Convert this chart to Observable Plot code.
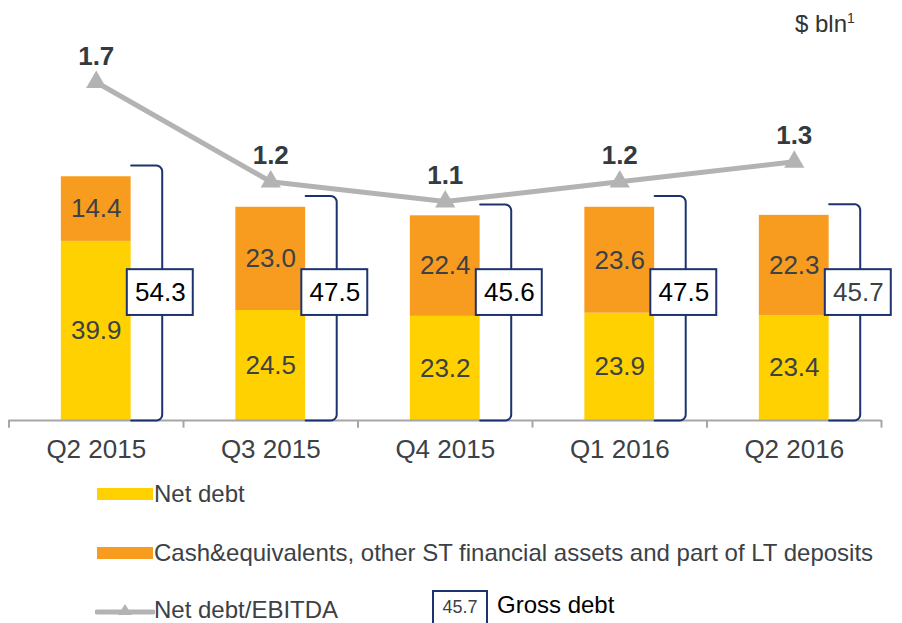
<!DOCTYPE html>
<html>
<head>
<meta charset="utf-8">
<script src="https://cdn.jsdelivr.net/npm/d3@7"></script>
<script src="https://cdn.jsdelivr.net/npm/@observablehq/plot@0.6"></script>
<style>
  body { margin: 0; background: #fff; font-family: "Liberation Sans", Arial, sans-serif; }
  #wrap { position: relative; width: 902px; height: 623px; overflow: hidden; }
  .abs { position: absolute; white-space: nowrap; }
  .lt { font-size: 24px; line-height: 24px; color: #3c4146; }
</style>
</head>
<body>
<div id="wrap">
  <div id="chart" class="abs" style="left:0;top:0"></div>
  <div class="abs lt" style="left:795px;top:12px;color:#333">$ bln<span style="font-size:14px;position:relative;top:-9px">1</span></div>

  <div class="abs" style="left:97px;top:488px;width:56px;height:12px;background:#FFD100"></div>
  <div class="abs lt" style="left:154px;top:482px">Net debt</div>

  <div class="abs" style="left:97px;top:547px;width:56px;height:12px;background:#F79C1F"></div>
  <div class="abs lt" style="left:154px;top:541px">Cash&amp;equivalents, other ST financial assets and part of LT deposits</div>

  <svg class="abs" style="left:95px;top:598px" width="60" height="23">
    <line x1="2" y1="14" x2="58" y2="14" stroke="#B3B3B3" stroke-width="5" stroke-linecap="round"/>
    <path d="M30,6 L37,17 L23,17 Z" fill="#B3B3B3"/>
  </svg>
  <div class="abs lt" style="left:154px;top:598px">Net debt/EBITDA</div>

  <div class="abs" style="left:432px;top:590px;width:52px;height:40px;border:2px solid #1c3370;background:#fff"></div>
  <div class="abs" style="left:432px;top:598px;width:56px;text-align:center;font-size:18px;line-height:18px;color:#3c4146">45.7</div>
  <div class="abs" style="left:497px;top:593px;font-size:24px;line-height:24px;color:#000">Gross debt</div>
</div>
<script>
const categories = ["Q2 2015", "Q3 2015", "Q4 2015", "Q1 2016", "Q2 2016"];
const netDebt = [39.9, 24.5, 23.2, 23.9, 23.4];
const cashEtc = [14.4, 23.0, 22.4, 23.6, 22.3];
const grossDebt = [54.3, 47.5, 45.6, 47.5, 45.7];
const netDebtToEbitda = [1.7, 1.2, 1.1, 1.2, 1.3];

const idx = categories.map((d, i) => i);
const barHalf = 0.2;          // half bar width in band units
const ratioToY = 44.33;       // secondary scale: ratio -> $ bln units
const navy = "#1c3370";
const labelGray = "#3c4146";

// stacked segments
const segs = [];
idx.forEach(i => {
  segs.push({i, y1: 0, y2: netDebt[i], v: netDebt[i], s: "net"});
  segs.push({i, y1: netDebt[i], y2: netDebt[i] + cashEtc[i], v: cashEtc[i], s: "cash"});
});

// bracket paths
const pxX = 174.5, pxY = 4.489, r = 6;
const rx = r / pxX, ry = r / pxY;
const brackets = [];
idx.forEach(i => {
  const lx = i + 0.378, left = i + barHalf, top = grossDebt[i] + 2.5, bot = 0;
  const pts = [[left, top]];
  for (let k = 0; k <= 6; k++) { const a = Math.PI / 2 - k * Math.PI / 12; pts.push([lx - rx + rx * Math.cos(a), top - ry + ry * Math.sin(a)]); }
  for (let k = 0; k <= 6; k++) { const a = -k * Math.PI / 12; pts.push([lx - rx + rx * Math.cos(a), bot + ry + ry * Math.sin(a)]); }
  pts.push([left, bot]);
  pts.forEach(p => brackets.push({i, x: p[0], y: p[1]}));
});

const boxCx = 0.367, boxHalfW = 0.189, boxY = 28.5, boxHalfH = 5.1;

const chart = Plot.plot({
  width: 902,
  height: 470,
  marginLeft: 8.5,
  marginRight: 21,
  marginTop: 16,
  marginBottom: 50,
  style: {fontFamily: "'Liberation Sans', Arial, sans-serif", background: "transparent"},
  x: {type: "linear", domain: [-0.5, 4.5], axis: null},
  y: {domain: [0, 90], axis: null},
  marks: [
    Plot.rect(segs, {
      x1: d => d.i - barHalf, x2: d => d.i + barHalf, y1: "y1", y2: "y2",
      fill: d => d.s === "net" ? "#FFD100" : "#F79C1F"
    }),
    Plot.text(segs, {
      x: "i", y: d => (d.y1 + d.y2) / 2, text: d => d.v.toFixed(1),
      fontSize: 26, fill: labelGray
    }),
    Plot.ruleY([0], {stroke: "#A6A6A6", strokeWidth: 2}),
    Plot.ruleX([-0.5, 0.5, 1.5, 2.5, 3.5, 4.5], {y1: 0, y2: -1.7, stroke: "#A6A6A6", strokeWidth: 2}),
    Plot.axisX(idx, {
      tickFormat: i => categories[i], tickSize: 0, tickPadding: 19,
      fontSize: 26, color: labelGray
    }),
    Plot.line(brackets, {x: "x", y: "y", z: "i", stroke: navy, strokeWidth: 2, strokeLinejoin: "round"}),
    Plot.rect(idx, {
      x1: i => i + boxCx - boxHalfW, x2: i => i + boxCx + boxHalfW,
      y1: boxY - boxHalfH, y2: boxY + boxHalfH,
      fill: "white", stroke: navy, strokeWidth: 2
    }),
    Plot.text(idx, {
      x: i => i + boxCx, y: boxY, text: i => grossDebt[i].toFixed(1),
      fontSize: 26, fill: i => i === 4 ? labelGray : "#000"
    }),
    Plot.line(idx, {x: i => i, y: i => netDebtToEbitda[i] * ratioToY, stroke: "#B3B3B3", strokeWidth: 5}),
    Plot.dot(idx, {x: i => i, y: i => netDebtToEbitda[i] * ratioToY, symbol: "triangle", r: 7.5, fill: "#B3B3B3"}),
    Plot.text(idx, {
      x: i => i, y: i => netDebtToEbitda[i] * ratioToY, dy: -26,
      text: i => netDebtToEbitda[i].toFixed(1), fontSize: 26, fontWeight: "bold", fill: "#333a40"
    })
  ]
});
document.getElementById("chart").appendChild(chart);
</script>
</body>
</html>
